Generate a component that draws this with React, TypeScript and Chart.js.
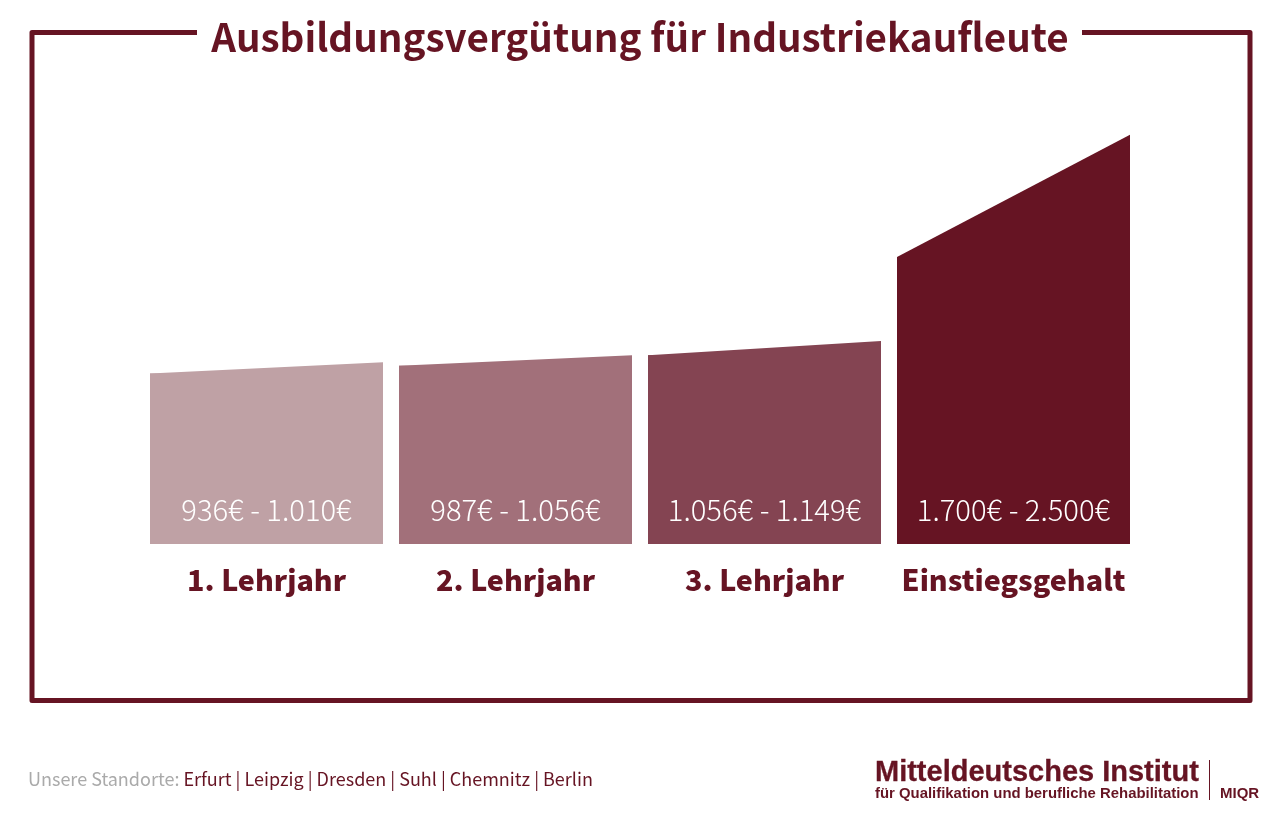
import { useEffect, useRef } from 'react';
import { Chart, Plugin, registerables } from 'chart.js';

Chart.register(...registerables);

const titleText = 'Ausbildungsvergütung für Industriekaufleute';
const categories = ['1. Lehrjahr', '2. Lehrjahr', '3. Lehrjahr', 'Einstiegsgehalt'];
const lowValues = [936, 987, 1056, 1700];
const highValues = [1010, 1056, 1149, 2500];
const barColors = ['#bfa1a5', '#a2707a', '#844452', '#661423'];
const locations = ['Erfurt', 'Leipzig', 'Dresden', 'Suhl', 'Chemnitz', 'Berlin'];

// the bars in the picture do not start at zero
const BASE_VALUE = -180;
const DARK = '#661423';
const SANS = '"Noto Sans CJK SC", "Noto Sans", sans-serif';

const euro = (v: number) => v.toLocaleString('de-DE') + '€';

const slantedBars: Plugin<'bar'> = {
  id: 'slantedBars',
  afterDatasetsDraw(chart) {
    const { ctx } = chart;
    const y = chart.scales.y;
    const bars = chart.getDatasetMeta(0).data as any[];
    bars.forEach((bar, i) => {
      const left = bar.x - bar.width / 2;
      const right = bar.x + bar.width / 2;
      ctx.save();
      ctx.fillStyle = barColors[i];
      ctx.beginPath();
      ctx.moveTo(left, y.getPixelForValue(BASE_VALUE));
      ctx.lineTo(left, y.getPixelForValue(lowValues[i]));
      ctx.lineTo(right, y.getPixelForValue(highValues[i]));
      ctx.lineTo(right, y.getPixelForValue(BASE_VALUE));
      ctx.closePath();
      ctx.fill();
      ctx.fillStyle = '#ffffff';
      ctx.font = `300 29.2px ${SANS}`;
      ctx.textAlign = 'center';
      ctx.textBaseline = 'middle';
      ctx.fillText(`${euro(lowValues[i])} - ${euro(highValues[i])}`, bar.x, y.getPixelForValue(BASE_VALUE) - 34);
      ctx.restore();
    });
  },
};

const frame: Plugin<'bar'> = {
  id: 'frame',
  beforeDraw(chart) {
    const { ctx } = chart;
    ctx.save();
    ctx.strokeStyle = DARK;
    ctx.lineWidth = 5;
    ctx.lineJoin = 'round';
    ctx.beginPath();
    ctx.moveTo(197, 32.5);
    ctx.lineTo(32, 32.5);
    ctx.lineTo(32, 700.5);
    ctx.lineTo(1250, 700.5);
    ctx.lineTo(1250, 32.5);
    ctx.lineTo(1082, 32.5);
    ctx.stroke();
    ctx.restore();
  },
};

export default function App() {
  const canvasRef = useRef<HTMLCanvasElement>(null);

  useEffect(() => {
    if (!canvasRef.current) return;

    const chart = new Chart(canvasRef.current, {
      type: 'bar',
      data: {
        labels: categories,
        datasets: [
          {
            data: lowValues,
            backgroundColor: barColors,
            base: BASE_VALUE,
            barPercentage: 233 / 249,
            categoryPercentage: 1,
            inflateAmount: 0,
          },
        ],
      },
      options: {
        responsive: false,
        animation: false,
        devicePixelRatio: 1,
        layout: { padding: { left: 142, right: 142, top: 0, bottom: 222 } },
        scales: {
          x: {
            grid: { display: false },
            border: { display: false },
            ticks: {
              color: DARK,
              font: { family: SANS, size: 28.7, weight: 900 },
              padding: 10.5,
              maxRotation: 0,
              autoSkip: false,
            },
            afterFit: (scale) => {
              scale.height = 60;
            },
          },
          y: { display: false, min: BASE_VALUE, max: 2500 },
        },
        plugins: {
          legend: { display: false },
          tooltip: { enabled: false },
          title: {
            display: true,
            text: titleText,
            color: DARK,
            font: { family: SANS, size: 38.6, weight: 'bold', lineHeight: 1.2 },
            padding: { top: 14.5, bottom: 74 },
          },
        },
      },
      plugins: [frame, slantedBars],
    });

    return () => chart.destroy();
  }, []);

  const logoFont = '"Liberation Sans", sans-serif';

  return (
    <div style={{ position: 'fixed', left: 0, top: 0, width: 1280, height: 826, background: '#fff', overflow: 'hidden' }}>
      <canvas ref={canvasRef} width={1280} height={826} style={{ display: 'block' }} />
      <div style={{ position: 'absolute', left: 28, top: 765, font: `400 18px ${SANS}`, color: DARK, whiteSpace: 'nowrap' }}>
        <span style={{ color: '#aaaaaa' }}>Unsere Standorte: </span>
        {locations.join(' | ')}
      </div>
      <div style={{ position: 'absolute', left: 875, top: 755, font: `bold 29px ${logoFont}`, color: DARK, whiteSpace: 'nowrap', WebkitTextStroke: '0.3px' }}>
        Mitteldeutsches Institut
      </div>
      <div style={{ position: 'absolute', left: 875, top: 785, font: `bold 14.9px ${logoFont}`, color: DARK, whiteSpace: 'nowrap' }}>
        für Qualifikation und berufliche Rehabilitation
      </div>
      <div style={{ position: 'absolute', left: 1209, top: 760, width: 1, height: 40, background: DARK }} />
      <div style={{ position: 'absolute', left: 1220, top: 784, font: `bold 15px ${logoFont}`, color: DARK, whiteSpace: 'nowrap' }}>
        MIQR
      </div>
    </div>
  );
}
